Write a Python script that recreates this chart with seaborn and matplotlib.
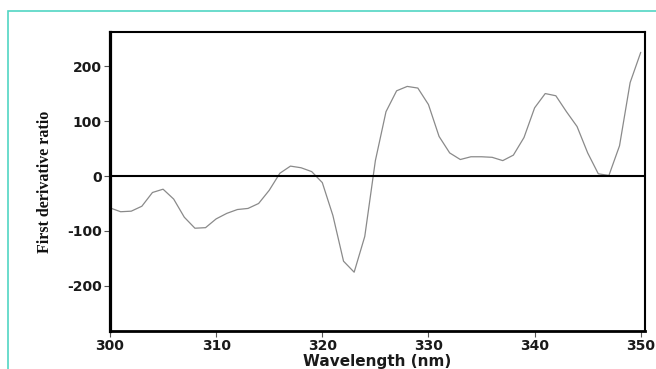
import pandas as pd
import matplotlib
matplotlib.use('Agg')
import matplotlib.pyplot as plt
import seaborn as sns
from matplotlib.patches import Rectangle

# wartosci (co 1 nm)
wavelength = list(range(300, 351))
ratio = [-58, -65, -64, -55, -30, -24, -42, -75, -95, -94,
         -78, -68, -61, -59, -50, -26, 5, 18, 15, 8,
         -12, -72, -155, -175, -110, 28, 117, 155, 163, 160,
         130, 72, 42, 30, 35, 35, 34, 28, 38, 70,
         124, 150, 146, 117, 90, 42, 4, 1, 55, 170,
         225]
x_ticks = [300, 310, 320, 330, 340, 350]
y_ticks = [-200, -100, 0, 100, 200]

data = pd.DataFrame({'wavelength': wavelength, 'ratio': ratio})

sns.set_style('ticks')
plt.rcParams['axes.unicode_minus'] = False

fig = plt.figure(figsize=(6.56, 3.69), dpi=100)
ax = fig.add_axes([110 / 656, 1 - 331 / 369, 535 / 656, 299 / 369])

# turkusowa ramka wokol calosci
fig.patches.append(Rectangle((8 / 656, -0.05), 1.0, 1 - 11 / 369 + 0.05,
                             transform=fig.transFigure, fill=False,
                             edgecolor='#52d6c4', linewidth=1.2))

sns.lineplot(data=data, x='wavelength', y='ratio', ax=ax, color='#8a8a8a', linewidth=0.9)
ax.axhline(0, color='black', linewidth=1.5)

ax.set_xlim(300, 350.4)
ax.set_ylim(-282, 262)
ax.set_xticks(x_ticks)
ax.set_yticks(y_ticks)

for side, lw in [('left', 2.3), ('bottom', 2.0), ('top', 1.5), ('right', 1.5)]:
    ax.spines[side].set_linewidth(lw)
    ax.spines[side].set_color('black')

ax.tick_params(axis='both', length=4, width=0.8, color='#555555', pad=2)
for lab in ax.get_xticklabels() + ax.get_yticklabels():
    lab.set_fontfamily('DejaVu Sans')
    lab.set_fontweight('bold')
    lab.set_fontsize(10)
    lab.set_color('#1a1a1a')

ax.set_xlabel('Wavelength (nm)', fontfamily='DejaVu Sans', fontweight='bold',
              fontsize=11, color='#1a1a1a', labelpad=0.5)
ax.set_ylabel('First derivative ratio', fontfamily='Liberation Serif', fontweight='bold',
              fontsize=11.5, color='#111111', labelpad=10)

plt.savefig('out.png', dpi=100)
